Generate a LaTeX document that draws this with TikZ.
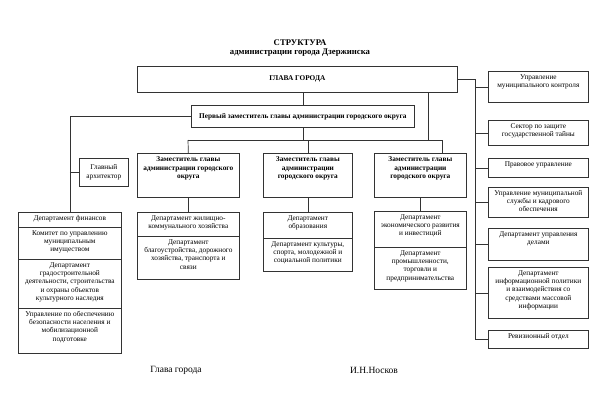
\documentclass[tikz,border=0pt]{standalone}
\usepackage{fontspec}
\setmainfont{Liberation Serif}
\newcommand{\cellbody}[3]{\parbox[c][#1][t]{#2}{\centering\vspace*{2.5pt}\strut #3}}
\tikzset{
 unit/.style={draw=black!80, line width=0.7pt, inner sep=0pt, anchor=north west,
  font=\fontsize{7.3}{8.2}\selectfont},
 head/.style={unit, font=\fontsize{7.3}{8.4}\selectfont\bfseries},
 link/.style={draw=black!80, line width=0.7pt}
}

\begin{document}
\begin{tikzpicture}[x=1pt,y=-1pt]
 \useasboundingbox (0,0) rectangle (600,400);
 \node[font=\fontsize{8.7}{9.6}\selectfont\bfseries, align=center] (title) at (300,48)
 {СТРУКТУРА\\администрации города Дзержинска};
 % top of the scheme
 \node[head, minimum width=320pt, minimum height=26pt] (glava) at (137,66) {ГЛАВА ГОРОДА};
 \node[head, minimum width=223pt, minimum height=22pt] (perv) at (191,105)
 {Первый заместитель главы администрации городского округа};
 \node[head] (zam1) at (137,153) {\cellbody{44pt}{102pt}{Заместитель главы\\администрации городского\\округа}};
 \node[head] (zam2) at (263,153) {\cellbody{44pt}{89pt}{Заместитель главы\\администрации\\городского округа}};
 \node[head] (zam3) at (374,153) {\cellbody{44pt}{92pt}{Заместитель главы\\администрации\\городского округа}};
 \node[unit, minimum width=49pt, minimum height=28pt, align=center] (arch) at (79,158) {Главный\\архитектор};
 % left column
 \node[unit] (fin) at (18,212) {\cellbody{15pt}{103pt}{Департамент финансов}};
 \node[unit] (kom) at (18,227) {\cellbody{32pt}{103pt}{Комитет по управлению\\муниципальным\\имуществом}};
 \node[unit] (grad) at (18,259) {\cellbody{49pt}{103pt}{Департамент\\градостроительной\\деятельности, строительства\\и охраны объектов\\культурного наследия}};
 \node[unit] (bez) at (18,308) {\cellbody{45pt}{103pt}{Управление по обеспечению\\безопасности населения и\\мобилизационной\\подготовке}};
 % deputy columns
 \node[unit] (zhkh) at (137,212) {\cellbody{24pt}{102pt}{Департамент жилищно-\\коммунального хозяйства}};
 \node[unit] (blag) at (137,236) {\cellbody{43pt}{102pt}{Департамент\\благоустройства, дорожного\\хозяйства, транспорта и\\связи}};
 \node[unit] (obr) at (263,212) {\cellbody{26pt}{89pt}{Департамент\\образования}};
 \node[unit] (kult) at (263,238) {\cellbody{33pt}{89pt}{Департамент культуры,\\спорта, молодежной и\\социальной политики}};
 \node[unit] (econ) at (374,211) {\cellbody{36pt}{92pt}{Департамент\\экономического развития\\и инвестиций}};
 \node[unit] (prom) at (374,247) {\cellbody{42pt}{92pt}{Департамент\\промышленности,\\торговли и\\предпринимательства}};
 % right column
 \node[unit] (kontr) at (488,71) {\cellbody{31pt}{100pt}{Управление\\муниципального контроля}};
 \node[unit] (taina) at (488,120) {\cellbody{25pt}{100pt}{Сектор по защите\\государственной тайны}};
 \node[unit] (prav) at (488,158) {\cellbody{19pt}{100pt}{Правовое управление}};
 \node[unit] (kadr) at (488,187) {\cellbody{30pt}{100pt}{Управление муниципальной\\службы и кадрового\\обеспечения}};
 \node[unit] (dela) at (488,228) {\cellbody{32pt}{100pt}{Департамент управления\\делами}};
 \node[unit] (inform) at (488,267) {\cellbody{51pt}{100pt}{Департамент\\информационной политики\\и взаимодействия со\\средствами массовой\\информации}};
 \node[unit] (reviz) at (488,330) {\cellbody{18pt}{100pt}{Ревизионный отдел}};
 % signature
 \node[font=\fontsize{9.5}{11}\selectfont] (signrole) at (176,370) {Глава города};
 \node[font=\fontsize{9.5}{11}\selectfont] (signname) at (374,370) {И.Н.Носков};

 \coordinate (busL) at (188,140);
 \coordinate (busR) at (442,140);
 \coordinate (gdrop) at (428,140);
 \coordinate (trunk) at (475,0);
 \draw[link] (perv.north |- glava.south) -- (perv.north);
 \draw[link] (gdrop |- glava.south) -- (gdrop);
 \draw[link] (perv.south) -- (perv.south |- busL);
 \draw[link] (busL) -- (busR);
 \draw[link] (busL) -- (zam1.north);
 \draw[link] (zam2.north |- busL) -- (zam2.north);
 \draw[link] (busR) -- (busR |- zam3.north);
 \draw[link] (perv.west) -- (perv.west -| fin.north) -- (fin.north);
 \draw[link] (arch.west -| fin.north) -- (arch.west);
 \draw[link] (zam1.south) -- (zhkh.north);
 \draw[link] (zam2.south) -- (obr.north);
 \draw[link] (zam3.south) -- (econ.north);
 \draw[link] (glava.east) -- (glava.east -| trunk) -- (reviz.west -| trunk) -- (reviz.west);
 \foreach \b in {kontr,taina,prav,kadr,dela,inform}
  \draw[link] (\b.west -| trunk) -- (\b.west);
\end{tikzpicture}
\end{document}
